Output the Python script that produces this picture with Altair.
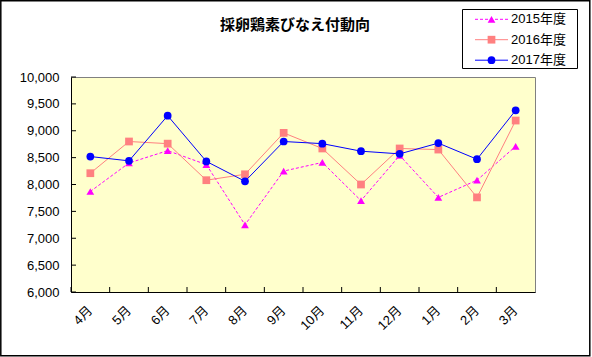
import altair as alt
import pandas as pd

months = ["4月", "5月", "6月", "7月", "8月", "9月", "10月", "11月", "12月", "1月", "2月", "3月"]
series_names = ["2015年度", "2016年度", "2017年度"]
v2015 = [7870, 8400, 8630, 8370, 7250, 8250, 8410, 7700, 8540, 7760, 8080, 8710]
v2016 = [8210, 8800, 8760, 8080, 8190, 8960, 8670, 8000, 8670, 8650, 7760, 9190]
v2017 = [8520, 8440, 9280, 8430, 8060, 8800, 8760, 8620, 8570, 8770, 8470, 9380]
y_ticks = [6000, 6500, 7000, 7500, 8000, 8500, 9000, 9500, 10000]
title_text = "採卵鶏素びなえ付動向"

W, H = 464, 215
FONT = "Liberation Sans, Noto Sans CJK JP"

colors = ["#FF00FF", "#FF8080", "#0000FF"]
shapes = ["triangle-up", "square", "circle"]
sizes = [60, 60, 60]

x_scale = alt.Scale(type="band", domain=months, paddingInner=0, paddingOuter=0)
x_axis = alt.Axis(title=None, labelAngle=-45, labelAlign="right", labelBaseline="middle",
                  labelFontSize=13, labelFont=FONT, labelColor="black", domainColor="black",
                  ticks=False, tickSize=0, labelPadding=16, grid=False)
y_scale = alt.Scale(domain=[6000, 10000], nice=False, zero=False)
y_axis = alt.Axis(title=None, values=y_ticks, format=",.0f", labelFontSize=13, labelFont=FONT,
                  labelColor="black", domainColor="black", ticks=False, tickSize=0,
                  labelPadding=12, grid=False)

def xenc(**kw):
    return alt.X("month:N", scale=x_scale, axis=x_axis, **kw)

def yenc():
    return alt.Y("value:Q", scale=y_scale, axis=y_axis)

layers = []

# outer border of the whole picture
frame = alt.Chart(alt.Data(values=[{"k": 1}])).mark_rect(
    fillOpacity=0, stroke="black", strokeWidth=1.5
).encode(x=alt.value(-70.2), x2=alt.value(518.8), y=alt.value(-76.2), y2=alt.value(278.8))
layers.append(frame)

# inside ticks
ytick_df = pd.DataFrame({"value": y_ticks})
layers.append(alt.Chart(ytick_df).mark_rule(color="black", strokeWidth=1).encode(
    y=yenc(), x=alt.value(0), x2=alt.value(5)))
xtick_df = pd.DataFrame({"month": months})
layers.append(alt.Chart(xtick_df).mark_rule(color="black", strokeWidth=1).encode(
    x=xenc(bandPosition=0), y=alt.value(H - 5), y2=alt.value(H)))

all_vals = [v2015, v2016, v2017]
for i, (name, vals) in enumerate(zip(series_names, all_vals)):
    df = pd.DataFrame({"month": months, "value": vals, "series": name})
    line_kw = dict(color=colors[i], strokeWidth=1)
    if i == 0:
        line_kw["strokeDash"] = [3, 2]
    base = alt.Chart(df)
    layers.append(base.mark_line(**line_kw).encode(x=xenc(), y=yenc()))
    layers.append(base.mark_point(shape=shapes[i], filled=True, color=colors[i], size=sizes[i],
                                  opacity=1).encode(x=xenc(), y=yenc()))

# title
layers.append(alt.Chart(alt.Data(values=[{"t": title_text}])).mark_text(
    fontSize=15, fontWeight="bold", font="Noto Sans CJK JP", align="center", baseline="middle",
    color="black").encode(text="t:N", x=alt.value(224), y=alt.value(-52)))

# legend box
layers.append(alt.Chart(alt.Data(values=[{"k": 1}])).mark_rect(
    fill="white", stroke="black", strokeWidth=1).encode(
    x=alt.value(391.5), x2=alt.value(506.5), y=alt.value(-67.5), y2=alt.value(-8.5)))
row_y = [-57.7, -37.3, -16.8]
for i, name in enumerate(series_names):
    d = alt.Chart(alt.Data(values=[{"s": name}]))
    rk = dict(color=colors[i], strokeWidth=1)
    if i == 0:
        rk["strokeDash"] = [3, 2]
    layers.append(d.mark_rule(**rk).encode(x=alt.value(404), x2=alt.value(437), y=alt.value(row_y[i])))
    layers.append(d.mark_point(shape=shapes[i], filled=True, color=colors[i], size=sizes[i],
                               opacity=1).encode(x=alt.value(420.5), y=alt.value(row_y[i])))
    layers.append(d.mark_text(fontSize=13, font=FONT, align="left", baseline="middle",
                              color="black").encode(text="s:N", x=alt.value(440), y=alt.value(row_y[i])))

chart = alt.layer(*layers, background="white").properties(
    width=W, height=H, autosize="none",
    padding={"left": 71, "top": 77, "right": 57, "bottom": 65},
).configure_view(fill="#FFFFCC", stroke="#808080", strokeWidth=1)

chart.save("out.html", embed_options={"renderer": "svg", "actions": False})
